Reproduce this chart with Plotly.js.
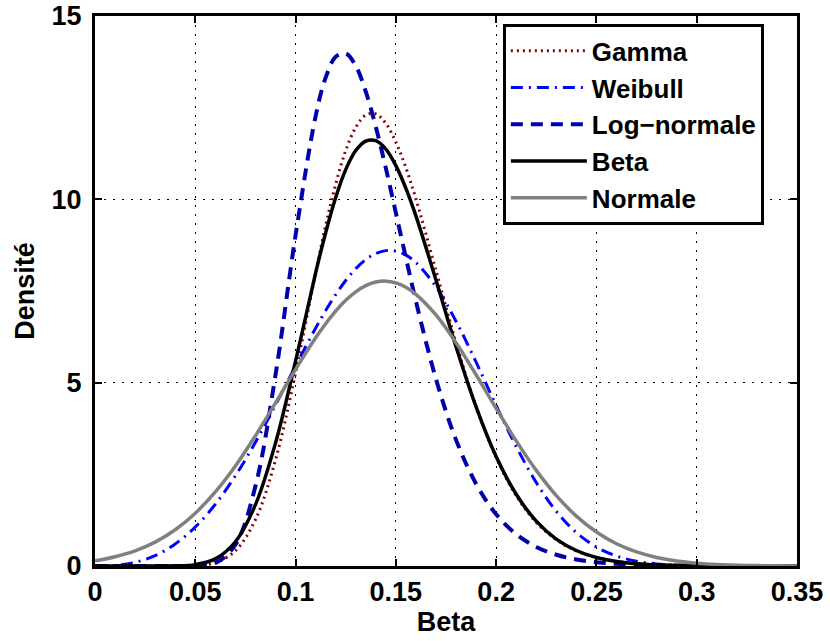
<!DOCTYPE html>
<html>
<head>
<meta charset="utf-8">
<script src="https://cdn.plot.ly/plotly-3.0.1.min.js"></script>
<style>html,body{margin:0;padding:0;background:#fff;}#chart{width:830px;height:641px;}</style>
</head>
<body>
<div id="chart"></div>
<script>
// Beta parameter grid (x)
const betaX = [0,0.01,0.02,0.03,0.04,0.05,0.06,0.07,0.08,0.09,0.10,0.11,0.115,0.12,0.125,0.13,0.135,0.14,0.145,0.15,0.155,0.16,0.17,0.18,0.19,0.20,0.21,0.22,0.23,0.24,0.25,0.26,0.27,0.28,0.29,0.30,0.31,0.32,0.33,0.34,0.35];

const gammaY = [0,0,0,0,0.001,0.013,0.094,0.415,1.266,2.894,5.273,7.994,9.29,10.41,11.33,11.96,12.30,12.33,12.07,11.56,10.86,10.01,8.06,6.09,4.35,2.96,1.92,1.19,0.72,0.41,0.233,0.127,0.067,0.035,0.018,0.009,0.004,0.002,0.001,0,0];

const weibullY = [0,0.016,0.100,0.285,0.600,1.063,1.683,2.461,3.375,4.393,5.454,6.487,6.966,7.402,7.787,8.110,8.357,8.523,8.601,8.587,8.478,8.276,7.618,6.676,5.560,4.378,3.257,2.278,1.491,0.911,0.518,0.272,0.131,0.058,0.024,0.009,0.003,0.001,0,0,0];

const lognormY = [0,0,0,0,0,0.004,0.082,0.581,2.18,5.21,9.02,12.27,13.32,13.89,13.98,13.64,12.94,11.98,10.85,9.63,8.41,7.22,5.10,3.44,2.24,1.41,0.865,0.520,0.307,0.179,0.103,0.059,0.033,0.019,0.010,0.006,0.003,0.002,0.001,0,0];

const betaY = [0,0,0,0,0.004,0.038,0.194,0.662,1.673,3.355,5.588,7.993,9.09,10.05,10.81,11.33,11.59,11.60,11.37,10.92,10.30,9.55,7.80,5.98,4.34,2.985,1.957,1.224,0.734,0.422,0.233,0.124,0.063,0.031,0.015,0.007,0.003,0.001,0,0,0];

const normalY = [0.14,0.254,0.414,0.652,0.988,1.440,2.021,2.730,3.552,4.448,5.361,6.223,6.608,6.953,7.245,7.478,7.645,7.744,7.769,7.720,7.600,7.410,6.847,6.090,5.215,4.299,3.412,2.607,1.918,1.360,0.927,0.608,0.384,0.234,0.137,0.077,0.042,0.022,0.011,0.005,0.002];

const seriesNames = ["Gamma","Weibull","Log\u2212normale","Beta","Normale"];
const xTickVals = [0,0.05,0.1,0.15,0.2,0.25,0.3,0.35];
const xTickText = ["0","0.05","0.1","0.15","0.2","0.25","0.3","0.35"];
const yTickVals = [0,5,10,15];
const yTickText = ["0","5","10","15"];

const FONT = "Liberation Sans, Arial, Helvetica, sans-serif";

const traces = [
  {x: betaX, y: gammaY, name: seriesNames[0], mode: "lines",
   line: {color: "rgb(139,0,0)", width: 3, dash: "2px,4px", shape: "spline"}},
  {x: betaX, y: weibullY, name: seriesNames[1], mode: "lines",
   line: {color: "rgb(0,0,255)", width: 3, dash: "12px,6px,2px,6px", shape: "spline"}},
  {x: betaX, y: lognormY, name: seriesNames[2], mode: "lines",
   line: {color: "rgb(0,0,170)", width: 4, dash: "12px,8px", shape: "spline"}},
  {x: betaX, y: betaY, name: seriesNames[3], mode: "lines",
   line: {color: "rgb(0,0,0)", width: 3.5, shape: "spline"}},
  {x: betaX, y: normalY, name: seriesNames[4], mode: "lines",
   line: {color: "rgb(128,128,128)", width: 3.5, shape: "spline"}}
];

const layout = {
  width: 830, height: 641,
  margin: {l: 95, r: 33, t: 16, b: 75, pad: 0},
  paper_bgcolor: "#fff", plot_bgcolor: "#fff",
  font: {family: FONT, size: 27, color: "#000", weight: "bold"},
  showlegend: true,
  legend: {
    x: 0.581, y: 0.985, xanchor: "left", yanchor: "top",
    bgcolor: "#fff", bordercolor: "#000", borderwidth: 3,
    font: {family: FONT, size: 26, color: "#000", weight: "bold"},
    itemwidth: 76, tracegroupgap: 0
  },
  xaxis: {
    range: [0, 0.35], tickvals: xTickVals, ticktext: xTickText,
    showline: true, linecolor: "#000", linewidth: 3, mirror: "ticks",
    ticks: "inside", ticklen: 7, tickwidth: 2, tickcolor: "#000",
    showgrid: true, gridcolor: "#000", gridwidth: 1.2, griddash: "2px,7px",
    zeroline: false, ticklabelstandoff: 0,
    tickfont: {family: FONT, size: 27, color: "#000", weight: "bold"},
    title: {text: "Beta", standoff: 0, font: {family: FONT, size: 27, color: "#000", weight: "bold"}}
  },
  yaxis: {
    range: [0, 15], tickvals: yTickVals, ticktext: yTickText,
    showline: true, linecolor: "#000", linewidth: 3, mirror: "ticks",
    ticks: "inside", ticklen: 7, tickwidth: 2, tickcolor: "#000",
    showgrid: true, gridcolor: "#000", gridwidth: 1.2, griddash: "2px,7px",
    zeroline: false, ticklabelstandoff: 5,
    tickfont: {family: FONT, size: 27, color: "#000", weight: "bold"},
    title: {text: "Densité", standoff: 10, font: {family: FONT, size: 27, color: "#000", weight: "bold"}}
  }
};

Plotly.newPlot("chart", traces, layout, {staticPlot: true, displayModeBar: false});
</script>
</body>
</html>
